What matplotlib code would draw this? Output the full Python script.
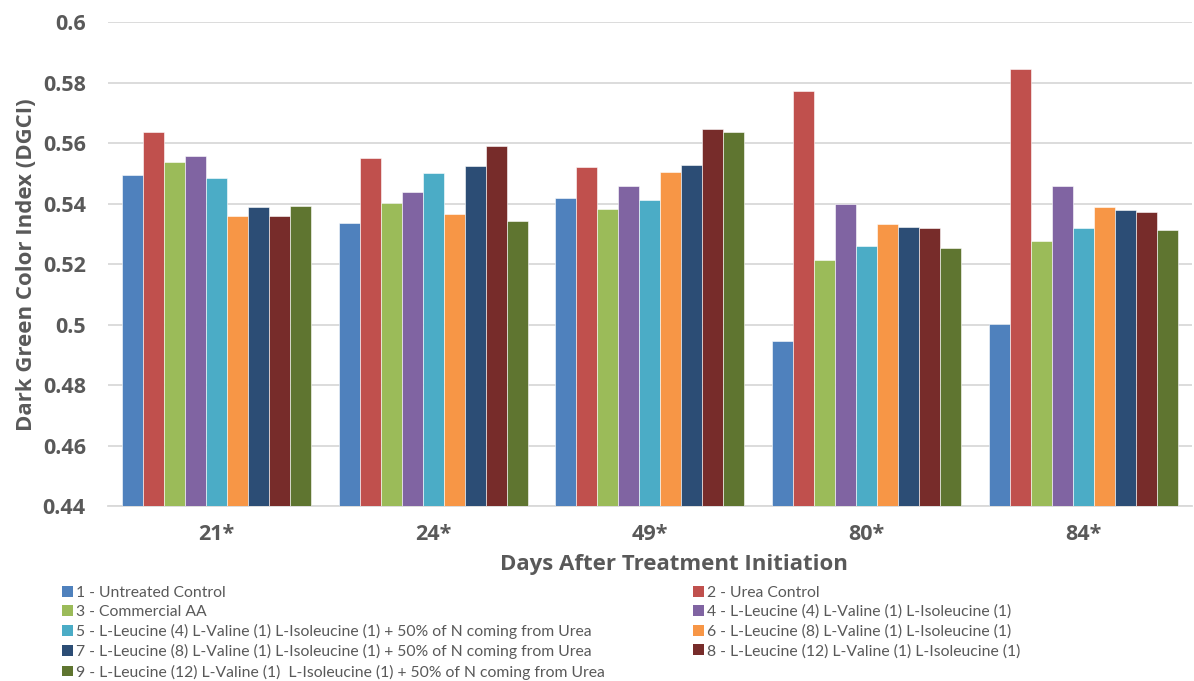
import numpy as np
import matplotlib
matplotlib.use('Agg')
from matplotlib import pyplot as plt
from matplotlib.patches import Patch

# days after treatment initiation (x categories)
days = ['21*', '24*', '49*', '80*', '84*']

treatments = ['1 - Untreated Control',
              '2 - Urea Control',
              '3 - Commercial AA',
              '4 - L-Leucine (4) L-Valine (1) L-Isoleucine (1)',
              '5 - L-Leucine (4) L-Valine (1) L-Isoleucine (1) + 50% of N coming from Urea',
              '6 - L-Leucine (8) L-Valine (1) L-Isoleucine (1)',
              '7 - L-Leucine (8) L-Valine (1) L-Isoleucine (1) + 50% of N coming from Urea',
              '8 - L-Leucine (12) L-Valine (1) L-Isoleucine (1)',
              '9 - L-Leucine (12) L-Valine (1)  L-Isoleucine (1) + 50% of N coming from Urea']

# DGCI per treatment, one value per day
t1 = [0.5495, 0.5336, 0.5420, 0.4946, 0.5002]
t2 = [0.5636, 0.5552, 0.5521, 0.5773, 0.5846]
t3 = [0.5537, 0.5401, 0.5383, 0.5215, 0.5277]
t4 = [0.5558, 0.5440, 0.5458, 0.5399, 0.5460]
t5 = [0.5486, 0.5502, 0.5413, 0.5261, 0.5321]
t6 = [0.5360, 0.5365, 0.5506, 0.5332, 0.5391]
t7 = [0.5389, 0.5525, 0.5527, 0.5323, 0.5380]
t8 = [0.5360, 0.5592, 0.5646, 0.5319, 0.5374]
t9 = [0.5393, 0.5342, 0.5638, 0.5254, 0.5312]
values = [t1, t2, t3, t4, t5, t6, t7, t8, t9]

colors = ['#4F81BD', '#C0504D', '#9BBB59', '#8064A2', '#4BACC6',
          '#F79646', '#2C4D75', '#772C2A', '#5F7530']

yticks = [0.44, 0.46, 0.48, 0.5, 0.52, 0.54, 0.56, 0.58, 0.6]

grey = '#595959'
plt.rcParams['font.family'] = ['Open Sans', 'DejaVu Sans']

fig = plt.figure(figsize=(11.94, 6.81), dpi=100)
ax = fig.add_axes([0.0905, 0.257, 0.9075, 0.710])

n = len(values)
x = np.arange(len(days))
w = 0.872 / n
base = 0.44
for i, v in enumerate(values):
    h = [val - base for val in v]
    ax.bar(x - 0.436 + w * (i + 0.5), h, width=w, bottom=base, color=colors[i],
           edgecolor='white', linewidth=0.4, zorder=3, label=treatments[i])

ax.set_xlim(-0.5, len(days) - 0.5)
ax.set_ylim(0.44, 0.6)
ax.set_yticks(yticks)
ax.set_yticklabels(['%g' % t for t in yticks])
ax.set_xticks(x)
ax.set_xticklabels(days)
ax.grid(axis='y', color='#d9d9d9', linewidth=1.3, zorder=0)
for s in ['top', 'right', 'left']:
    ax.spines[s].set_visible(False)
ax.spines['bottom'].set_color('#d9d9d9')
ax.spines['bottom'].set_linewidth(1.3)
ax.tick_params(axis='both', length=0, colors=grey, labelsize=15.5)
ax.tick_params(axis='y', pad=16)
ax.tick_params(axis='x', pad=13)
for lbl in ax.get_xticklabels() + ax.get_yticklabels():
    lbl.set_fontweight('bold')

ax.set_ylabel('Dark Green Color Index (DGCI)', fontsize=16, fontweight='bold',
              color=grey, labelpad=4)
ax.set_xlabel('Days After Treatment Initiation', fontsize=16, fontweight='bold',
              color=grey, labelpad=6)
ax.xaxis.set_label_coords(0.522, -0.099)

# legend laid out as two columns, odd treatments left, even right
handles = [Patch(facecolor=c) for c in colors]
opts = dict(loc='upper left', frameon=False, borderpad=0,
            borderaxespad=0, handlelength=0.68, handleheight=0.68,
            handletextpad=0.22, labelspacing=0.33,
            prop={'family': ['Lato', 'DejaVu Sans'], 'size': 11.3})
left = [0, 2, 4, 6, 8]
right = [1, 3, 5, 7]
leg1 = fig.legend([handles[i] for i in left], [treatments[i] for i in left],
                  bbox_to_anchor=(0.0519, 0.140), **opts)
leg2 = fig.legend([handles[i] for i in right], [treatments[i] for i in right],
                  bbox_to_anchor=(0.5804, 0.140), **opts)
for leg in (leg1, leg2):
    for t in leg.get_texts():
        t.set_color(grey)

plt.savefig('out.png', dpi=100)
